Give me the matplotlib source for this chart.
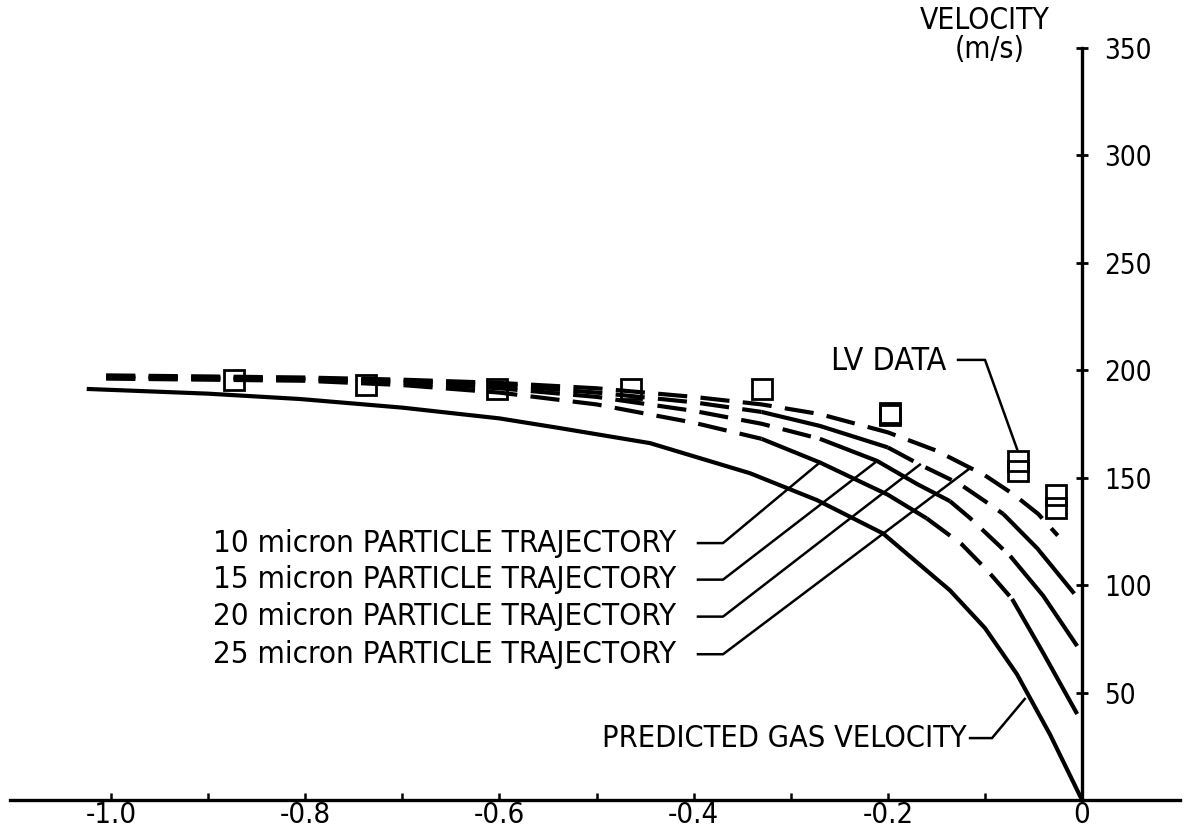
import matplotlib
matplotlib.use('Agg')
import matplotlib.pyplot as plt
import numpy as np

plt.rcParams['font.family'] = ['DejaVu Sans']
plt.rcParams['font.stretch'] = 'condensed'

# predicted gas velocity (m/s) vs distance
gas_x = [-1.025, -0.9, -0.805, -0.7, -0.6, -0.538, -0.445, -0.342, -0.273, -0.205, -0.136, -0.1, -0.067, -0.033, 0.0]
gas_v = [191.2, 189, 186.5, 182.5, 177.5, 173, 166, 152, 139.5, 124, 97.5, 80, 58.5, 30.5, 0]

# particle trajectories
p25_x = [-1.005, -0.9, -0.8, -0.7, -0.6, -0.5, -0.4, -0.33, -0.27, -0.2, -0.15, -0.1, -0.07, -0.045, -0.025]
p25_v = [197.5, 197, 196.5, 195.5, 194, 191.5, 187.5, 184, 179.5, 171, 162.5, 151, 142, 133, 123]

p20_x = [-1.005, -0.9, -0.8, -0.7, -0.6, -0.5, -0.4, -0.33, -0.27, -0.2, -0.167, -0.126, -0.1, -0.081, -0.046, -0.008]
p20_v = [197, 196.5, 196, 195, 193, 189.5, 185, 180.5, 174, 164, 156, 147, 139, 133, 117, 96]

p15_x = [-1.005, -0.9, -0.8, -0.7, -0.6, -0.5, -0.4, -0.33, -0.27, -0.211, -0.17, -0.136, -0.115, -0.074, -0.04, -0.005]
p15_v = [196.5, 196, 195.5, 194, 191.5, 187.5, 181, 175, 168, 157.7, 147, 139, 131, 113.5, 95, 71.6]

p10_x = [-1.005, -0.9, -0.8, -0.7, -0.6, -0.5, -0.4, -0.33, -0.27, -0.2, -0.16, -0.124, -0.097, -0.072, -0.04, -0.005]
p10_v = [196, 195.5, 195, 193, 189.5, 184, 175.5, 168, 157, 142, 131, 119, 106.5, 93.5, 68.4, 40]

# LV measurements
lv_x = [-0.873, -0.737, -0.602, -0.464, -0.330, -0.198, -0.198, -0.066, -0.066, -0.027, -0.027]
lv_v = [195.3, 193, 191.4, 191.2, 191.2, 179.0, 180.0, 157.7, 152.8, 141.9, 135.6]

labels = ['10 micron PARTICLE TRAJECTORY', '15 micron PARTICLE TRAJECTORY',
          '20 micron PARTICLE TRAJECTORY', '25 micron PARTICLE TRAJECTORY']
# x where each label's leader meets its curve
leader_hit_x = [-0.27, -0.211, -0.167, -0.115]

xticks = [-1.0, -0.8, -0.6, -0.4, -0.2, 0.0]
xticklabels = ['-1.0', '-0.8', '-0.6', '-0.4', '-0.2', '0']
yticks = [50, 100, 150, 200, 250, 300, 350]

fig = plt.figure(figsize=(11.87, 8.40), dpi=100)
ax = fig.add_axes([0, 0, 1, 1])
ax.set_xlim(-1.1143, 0.1081)
ax.set_ylim(-18.6, 372.1)

LW = 3.0
DASH = (7.0, 3.2)

def draw_curve(xs, vs, pieces):
    # pieces: (start index, end index, dashed?)
    for a, b, dashed in pieces:
        line, = ax.plot(xs[a:b + 1], vs[a:b + 1], color='black', lw=LW,
                        solid_capstyle='butt', solid_joinstyle='round')
        if dashed:
            line.set_dashes(DASH)

draw_curve(gas_x, gas_v, [(0, len(gas_x) - 1, False)])
draw_curve(p25_x, p25_v, [(0, len(p25_x) - 1, True)])
draw_curve(p20_x, p20_v, [(0, 7, True), (7, 9, False), (9, 13, True), (13, 15, False)])
draw_curve(p15_x, p15_v, [(0, 8, True), (8, 11, False), (11, 13, True), (13, 15, False)])
draw_curve(p10_x, p10_v, [(0, 7, True), (7, 10, False), (10, 13, True), (13, 15, False)])

ax.plot(lv_x, lv_v, 's', ms=14, mfc='none', mec='black', mew=2.0, zorder=5)

# label leaders
curves = [(p10_x, p10_v), (p15_x, p15_v), (p20_x, p20_v), (p25_x, p25_v)]
label_y = [119.5, 102.5, 85.3, 67.8]
for lab, ly, hx, (cx, cv) in zip(labels, label_y, leader_hit_x, curves):
    hv = np.interp(hx, cx, cv)
    ax.text(-0.418, ly, lab, ha='right', va='center', fontsize=22.5)
    ax.plot([-0.3955, -0.3697, hx], [ly, ly, hv], color='black', lw=1.8)

ax.text(-0.140, 204, 'LV DATA', ha='right', va='center', fontsize=23)
ax.plot([-0.1277, -0.0999, -0.0669], [204.7, 204.7, 163.2], color='black', lw=1.8)

ax.text(-0.1184, 28.4, 'PREDICTED GAS VELOCITY', ha='right', va='center', fontsize=22)
ax.plot([-0.1153, -0.0927, -0.059], [28.8, 28.8, 47.0], color='black', lw=1.8)

ax.text(-0.0999, 362.5, 'VELOCITY', ha='center', va='center', fontsize=21.5)
ax.text(-0.0947, 349.0, '(m/s)', ha='center', va='center', fontsize=21.5)

# axes through the origin
for s in ['top', 'left']:
    ax.spines[s].set_visible(False)
ax.spines['bottom'].set_position(('data', 0))
ax.spines['bottom'].set_bounds(-1.104, 0.101)
ax.spines['bottom'].set_linewidth(2.4)
ax.spines['right'].set_position(('data', 0))
ax.spines['right'].set_bounds(0, 350)
ax.spines['right'].set_linewidth(2.4)

ax.yaxis.tick_right()
ax.set_yticks(yticks)
ax.set_yticklabels([str(t) for t in yticks])
ax.tick_params(axis='y', direction='inout', length=8, width=2, pad=12, labelsize=20)

ax.set_xticks(xticks)
ax.set_xticklabels(xticklabels)
ax.set_xticks([-0.9, -0.7, -0.5, -0.3, -0.1], minor=True)
ax.tick_params(axis='x', which='both', direction='in', length=5, width=1.8, pad=1, labelsize=21)

fig.savefig('out.png', dpi=100)
